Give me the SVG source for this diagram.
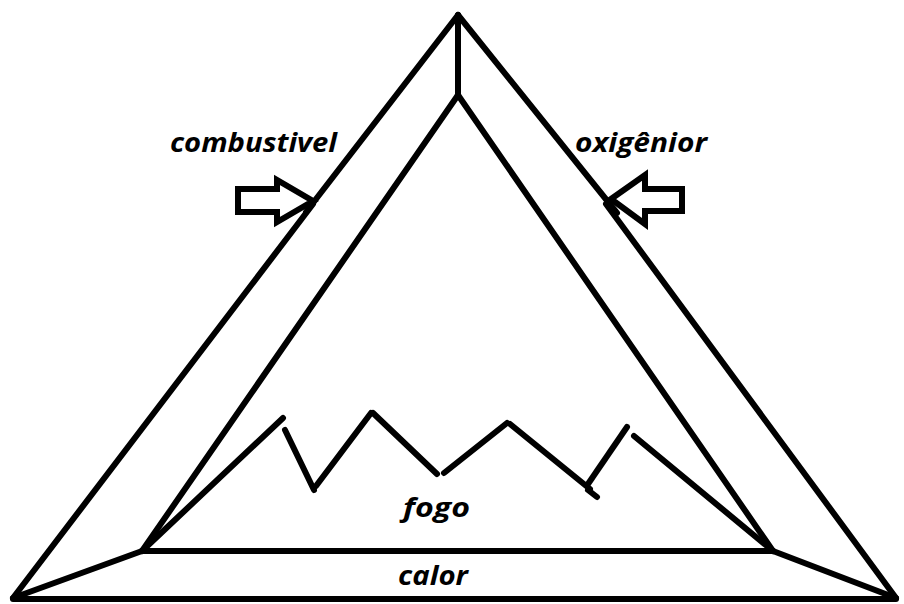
<svg xmlns="http://www.w3.org/2000/svg" width="904" height="604" viewBox="0 0 904 604">
<style>
.ln{fill:none;stroke:#000;stroke-width:6;stroke-linecap:round;stroke-linejoin:round}
.ar{fill:#fff;stroke:#000;stroke-width:6;stroke-linejoin:miter}
.lb{font-family:"Open Sans","Liberation Sans",sans-serif;font-weight:bold;font-style:italic;font-size:27px;fill:#000}
</style>
<rect width="904" height="604" fill="#fff"/>
<g id="connectors">
<line class="ln" x1="458" y1="15" x2="306" y2="212"/>
<line class="ln" x1="313" y1="204" x2="13" y2="598"/>
<line class="ln" x1="458" y1="15" x2="617" y2="213"/>
<line class="ln" x1="606" y1="204" x2="896" y2="598"/>
<line class="ln" x1="13" y1="599" x2="896" y2="599"/>
<line class="ln" x1="458" y1="15" x2="458" y2="95"/>
<line class="ln" x1="458" y1="95" x2="142" y2="551"/>
<line class="ln" x1="458" y1="95" x2="773" y2="551"/>
<line class="ln" x1="142" y1="551" x2="773" y2="551"/>
<line class="ln" x1="142" y1="551" x2="13" y2="598"/>
<line class="ln" x1="773" y1="551" x2="896" y2="598"/>
</g>
<g id="fogo-flame">
<line class="ln" x1="142" y1="551" x2="283" y2="418"/>
<line class="ln" x1="285" y1="430" x2="314" y2="490"/>
<line class="ln" x1="316" y1="486" x2="371" y2="413"/>
<line class="ln" x1="373" y1="413" x2="437" y2="474"/>
<line class="ln" x1="444" y1="473" x2="507" y2="423"/>
<line class="ln" x1="510" y1="424" x2="590" y2="489"/>
<line class="ln" x1="588" y1="490" x2="597" y2="497"/>
<line class="ln" x1="588" y1="484" x2="627" y2="427"/>
<line class="ln" x1="634" y1="436" x2="773" y2="551"/>
</g>
<g id="arrow-combustivel">
<path class="ar" d="M238,189 L277,189 L277,180 L313,201 L277,222 L277,212 L238,212 Z"/>
</g>
<g id="arrow-oxigenior">
<path class="ar" d="M611,199 L645,175 L645,189 L682,189 L682,211 L645,211 L645,224 Z"/>
</g>
<g id="label-combustivel"><text class="lb" x="170" y="152" textLength="167" lengthAdjust="spacingAndGlyphs">combustivel</text></g>
<g id="label-oxigenior"><text class="lb" x="575" y="152" textLength="132" lengthAdjust="spacingAndGlyphs">oxigênior</text></g>
<g id="label-fogo"><text class="lb" x="403" y="517" textLength="67" lengthAdjust="spacingAndGlyphs">fogo</text></g>
<g id="label-calor"><text class="lb" x="398" y="585" textLength="70" lengthAdjust="spacingAndGlyphs">calor</text></g>
</svg>
